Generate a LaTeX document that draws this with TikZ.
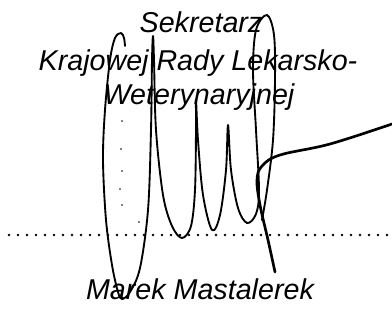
\documentclass[tikz,border=0pt]{standalone}
\usepackage{fontspec}
\setmainfont{Liberation Sans}
\usepackage{tikz}

\tikzset{
  label text/.style={anchor=base,inner sep=0.75pt,font=\fontsize{21.5}{26}\selectfont\itshape},
  pen/.style={line width=1.4pt,line cap=round,line join=round},
}

\begin{document}
\begin{tikzpicture}[x=0.75pt,y=0.75pt,yscale=-1,xscale=1]
\useasboundingbox (0,0) rectangle (392,323);

% Text Node
\node [label text] (line1) at (201,33) {Sekretarz};
% Text Node
\node [label text] (line2) at (198,71) {Krajowej Rady Lekarsko-};
% Text Node
\node [label text] (line3) at (199,105) {Weterynaryjnej};
% Text Node
\node [label text] (name) at (200,300) {Marek Mastalerek};

% Dotted line
\draw [line width=1.9pt,line cap=round,dash pattern=on 0pt off 6.75pt] (9,235) -- (392,235);

% Signature: loops
\draw [pen] plot [smooth,tension=0.55] coordinates {
  (125,46) (124,38) (121,33) (115,38) (110,60) (105,110) (103,160) (106,220)
  (112,265) (118,292) (122,299) (130,292) (140,268) (148,210) (151,130)
  (152,60) (153,36) (154,60) (156,130) (163,195) (172,226) (182,238)
  (191,226) (195,190) (196,130) (196,100) (198,140) (203,195) (212,230)
  (220,215) (226,170) (228,125) (231,170) (238,208) (247,223) (256,214)
  (259,190) (256,130) (253,70) (256,30) (267,15) (274,35) (275,80)
  (273,140) (267,190) (262,220)
};
% Signature: flourish
\draw [pen,line width=2pt] plot [smooth,tension=0.6] coordinates {
  (275,272) (268,240) (260,205) (257,180) (262,166) (280,155) (330,144) (392,124)
};
% specks
\fill (122,121) circle (0.8);
\fill (121,149) circle (0.8);
\fill (122,171) circle (0.8);
\fill (120,189) circle (0.8);
\fill (122,205) circle (0.8);
\fill (139,222) circle (0.8);
\end{tikzpicture}
\end{document}
